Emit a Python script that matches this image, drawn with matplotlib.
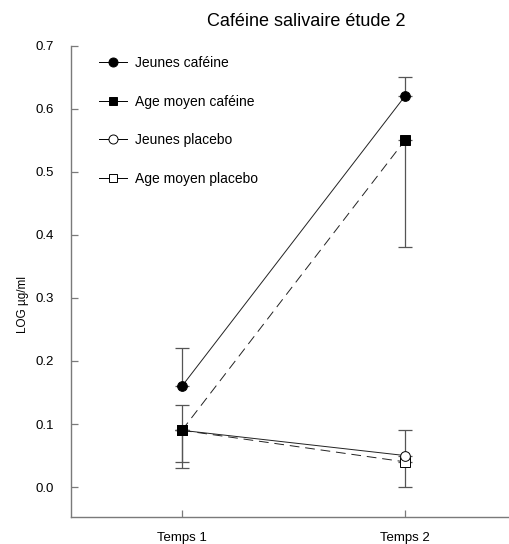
import matplotlib
matplotlib.use("Agg")
import matplotlib.pyplot as plt

plt.rcParams["font.family"] = ["Liberation Sans", "DejaVu Sans"]

# --- données
temps = [1, 2]
temps_labels = ["Temps 1", "Temps 2"]

jeunes_cafeine = [0.16, 0.62]
jeunes_cafeine_up = [0.06, 0.03]
jeunes_cafeine_down = [0.0, 0.0]

age_cafeine = [0.09, 0.55]
age_cafeine_up = [0.04, 0.0]
age_cafeine_down = [0.0, 0.17]

jeunes_placebo = [0.09, 0.05]
jeunes_placebo_up = [0.0, 0.04]
jeunes_placebo_down = [0.05, 0.0]

age_placebo = [0.09, 0.04]
age_placebo_up = [0.0, 0.0]
age_placebo_down = [0.06, 0.04]

grey = "#7a7a7a"

fig = plt.figure(figsize=(5.10, 5.44), dpi=100)
ax = fig.add_axes([0.139, 0.0496, 0.861, 0.8664])

def serie(y, down, up, marker, fill, ls, z):
    ax.errorbar(temps, y, yerr=[down, up], fmt="none", ecolor="#555555",
                elinewidth=0.9, capsize=5, capthick=0.9, zorder=z)
    ax.plot(temps, y, color="#222222", lw=0.7, ls=ls, dashes=(10, 6) if ls == "--" else (None, None),
            zorder=z + 1)
    ax.plot(temps, y, ls="none", marker=marker, markersize=7 if marker == "o" else 7.5,
            markerfacecolor=fill, markeredgecolor="black", markeredgewidth=0.7, zorder=z + 2)

serie(age_placebo, age_placebo_down, age_placebo_up, "s", "white", "--", 2)
serie(jeunes_placebo, jeunes_placebo_down, jeunes_placebo_up, "o", "white", "-", 5)
serie(age_cafeine, age_cafeine_down, age_cafeine_up, "s", "black", "--", 8)
serie(jeunes_cafeine, jeunes_cafeine_down, jeunes_cafeine_up, "o", "black", "-", 11)

# légende dans l'ordre du graphique
handles = []
for marker, fill, label in [("o", "black", "Jeunes caféine"), ("s", "black", "Age moyen caféine"),
                            ("o", "white", "Jeunes placebo"), ("s", "white", "Age moyen placebo")]:
    h, = ax.plot([], [], color="black", lw=0.7, marker=marker, markersize=6.5 if marker == "o" else 6,
                 markerfacecolor=fill, markeredgecolor="black", markeredgewidth=0.7, label=label)
    handles.append(h)
ax.legend(handles=handles, loc="upper left", bbox_to_anchor=(0.035, 1.005), frameon=False,
          fontsize=10, labelspacing=1.78, handlelength=2.0, handletextpad=0.6)

ax.set_xlim(0.502, 2.471)
ax.set_ylim(-0.0475, 0.7)
ax.set_xticks(temps)
ax.set_xticklabels(temps_labels)
ax.set_yticks([0.0, 0.1, 0.2, 0.3, 0.4, 0.5, 0.6, 0.7])
ax.set_yticklabels(["0.0", "0.1", "0.2", "0.3", "0.4", "0.5", "0.6", "0.7"])

for s in ["top", "right"]:
    ax.spines[s].set_visible(False)
for s in ["left", "bottom"]:
    ax.spines[s].set_color(grey)
    ax.spines[s].set_linewidth(1.0)
ax.tick_params(axis="both", direction="in", length=5, width=0.9, color=grey, labelsize=9.5)
ax.tick_params(axis="y", pad=12)
ax.tick_params(axis="x", pad=11)

ax.set_ylabel("LOG µg/ml", fontsize=8.5)
ax.yaxis.set_label_coords(-0.095, 0.45)

fig.text(0.6, 0.96, "Caféine salivaire étude 2", ha="center", va="center", fontsize=13)

fig.savefig("out.png", dpi=100)
